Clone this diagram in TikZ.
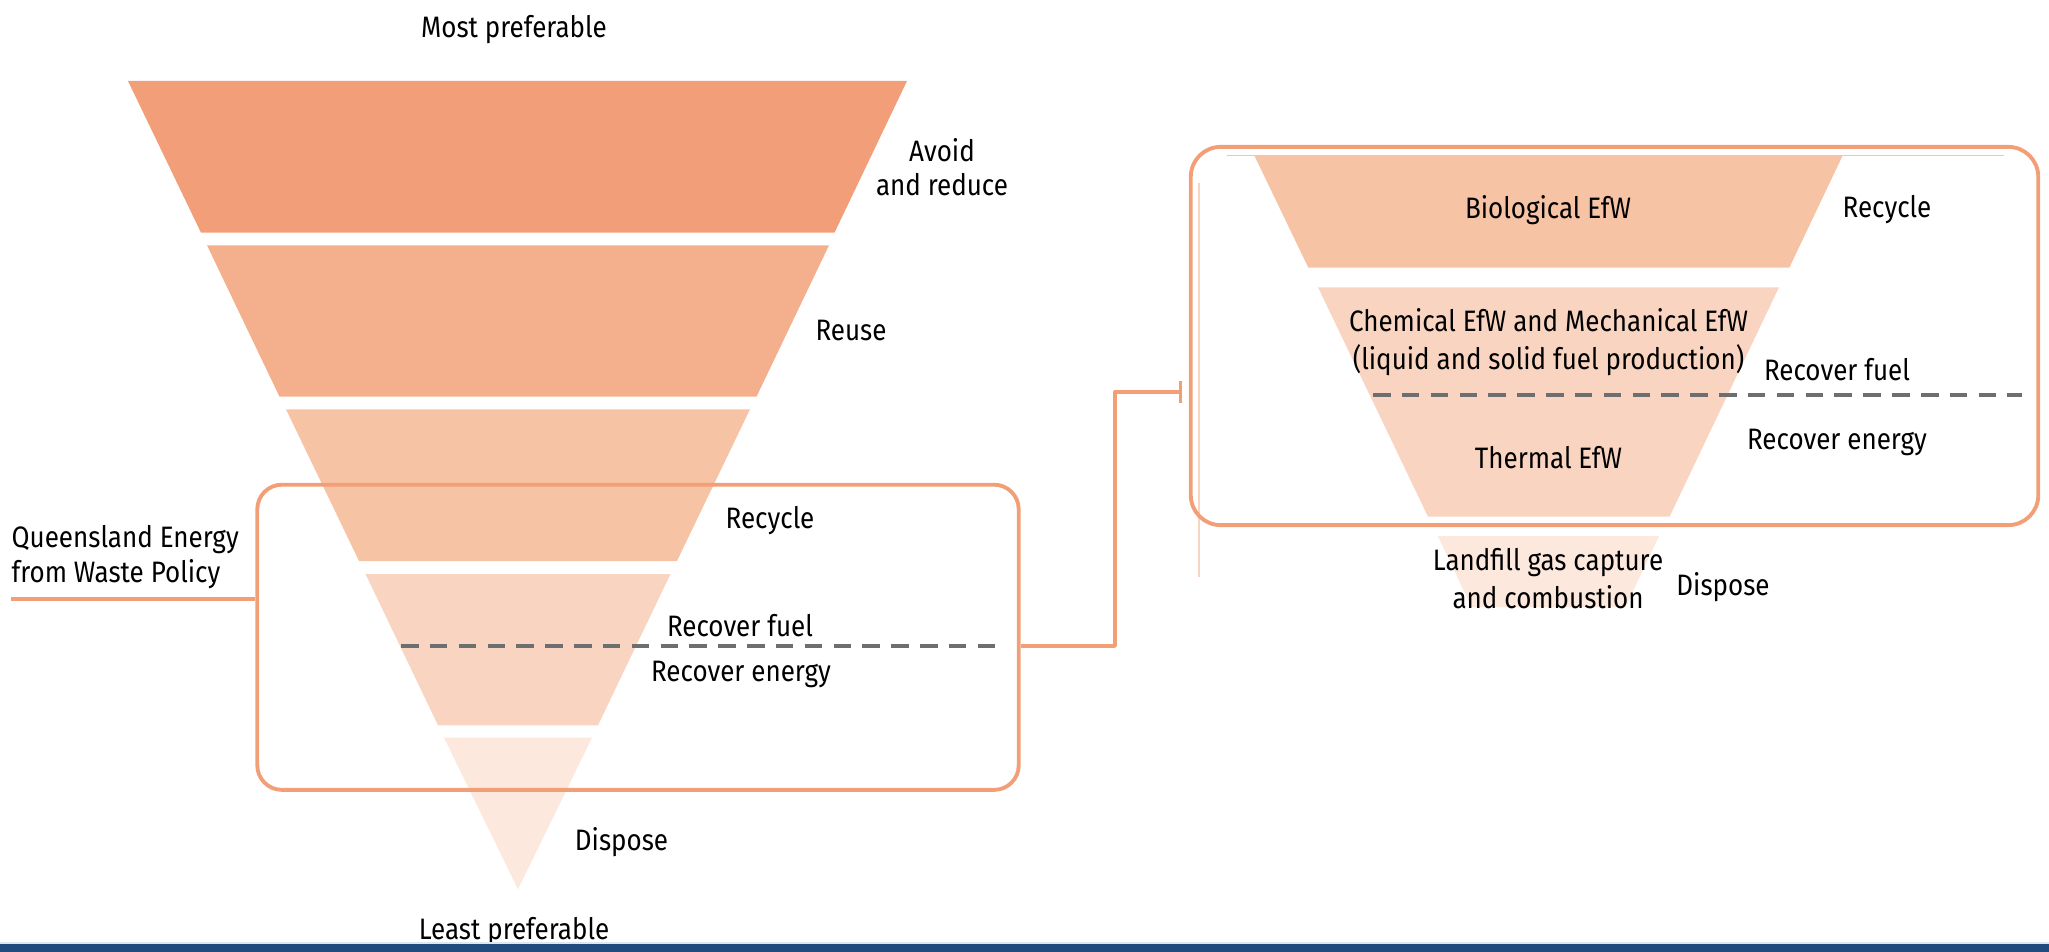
\documentclass[tikz,border=0pt]{standalone}
\usepackage{fontspec}
\setmainfont[FakeStretch=0.88]{Fira Sans}
\usepackage{xcolor}
\usetikzlibrary{arrows.meta}

\definecolor{tierA}{HTML}{F29E78}
\definecolor{tierB}{HTML}{F4AF8D}
\definecolor{tierC}{HTML}{F7C3A5}
\definecolor{tierD}{HTML}{F9D5C1}
\definecolor{tierE}{HTML}{FCE8DD}
\definecolor{frameorange}{HTML}{F29F78}
\definecolor{dashgrey}{HTML}{6D6E70}
\definecolor{barblue}{HTML}{1F4B7E}
\definecolor{barlight}{HTML}{E0E6EE}

\tikzset{
  lbl/.style={font=\fontsize{8.4}{9.6}\selectfont, align=center, inner sep=0pt, yshift=-1.1pt},
  lblwide/.style={lbl, font=\fontsize{8.4}{10.9}\selectfont},
  policyframe/.style={draw=frameorange, line width=1.1pt, rounded corners=7pt, inner sep=0pt},
  tierline/.style={dashgrey, line width=1.15pt, dash pattern=on 5pt off 3.2pt},
  conn/.style={frameorange, line width=0.95pt}
}

\begin{document}
\begin{tikzpicture}[x=0.01cm, y=-0.01cm, line join=round]
  \useasboundingbox (0,0) rectangle (2049,952);

  % Waste hierarchy funnel
  \fill[tierA] (128,81) -- (907,81) -- (834.5,232.7) -- (201,232.7) -- cycle;
  \fill[tierB] (207,245.3) -- (829,245.3) -- (756.5,396.7) -- (279.5,396.7) -- cycle;
  \fill[tierC] (286,409.3) -- (750,409.3) -- (677,561) -- (359,561) -- cycle;
  \fill[tierD] (365.5,574) -- (670.5,574) -- (598,725.3) -- (438,725.3) -- cycle;
  \fill[tierE] (444,737.7) -- (592,737.7) -- (518,889.3) -- cycle;

  % Recover fuel / energy split
  \draw[tierline] (401,646) -- (998,646);

  % Energy from waste hierarchy
  \fill[tierC] (1254.4,155.7) -- (1842.6,155.7) -- (1789.3,267.7) -- (1308.3,267.7) -- cycle;
  \fill[tierD] (1318,287.3) -- (1779,287.3) -- (1669.5,516.7) -- (1428,516.7) -- cycle;
  \fill[tierE] (1437.8,536) -- (1659,536) -- (1625.5,607) -- (1471.5,607) -- cycle;
  \draw[tierline] (1373,395) -- (2022,395);
  \draw[tierC, line width=0.3pt] (1227,155.7) -- (2004,155.7);
  \draw[tierD, line width=0.3pt] (1199,183) -- (1199,577);

  % Frames
  \node[policyframe, minimum width=7.61cm, minimum height=3.05cm] (policy) at (638,637.3) {};
  \node[policyframe, rounded corners=8.5pt, minimum width=8.47cm, minimum height=3.78cm] (efw) at (1614.5,336) {};

  % Connectors
  \coordinate (qldstart) at (11,599);
  \coordinate (elbow) at (1115,646);
  \coordinate (efwin) at (1182,392);
  \draw[conn] (qldstart) -- (qldstart -| policy.west);
  \draw[conn, -{Bar[width=6pt, line width=0.9pt]}] (policy.east |- elbow) -- (elbow) |- (efwin);

  % Labels
  \node[lbl] (most) at (514,26) {Most preferable};
  \node[lbl] (least) at (514,928) {Least preferable};
  \node[lbl] (avoid) at (942,163) {Avoid\\and reduce};
  \node[lbl] (reuse) at (851,327) {Reuse};
  \node[lbl, anchor=west] (recycle) at (725,517) {Recycle};
  \node[lbl] (fuel) at (740,622) {Recover fuel};
  \node[lbl] (energy) at (741,671) {Recover energy};
  \node[lbl] (dispose) at (621.5,838) {Dispose};
  \node[lbl, anchor=west, align=left, font=\fontsize{8.4}{9.9}\selectfont] (qld) at (11,553.5) {Queensland Energy\\from Waste Policy};

  \node[lbl] (bio) at (1548,206) {Biological EfW};
  \node[lbl] (recycleR) at (1887,206) {Recycle};
  \node[lblwide] (chem) at (1548.5,338) {Chemical EfW and Mechanical EfW\\(liquid and solid fuel production)};
  \node[lbl] (fuelR) at (1837,366) {Recover fuel};
  \node[lbl] (energyR) at (1837,439) {Recover energy};
  \node[lbl] (thermal) at (1548.5,454) {Thermal EfW};
  \node[lblwide] (landfill) at (1548,575) {Landfill gas capture\\and combustion};
  \node[lbl] (disposeR) at (1723,583) {Dispose};

  % Footer bar
  \fill[barlight] (0,942) rectangle (2049,944);
  \fill[barblue] (0,944) rectangle (2049,952);
\end{tikzpicture}
\end{document}
